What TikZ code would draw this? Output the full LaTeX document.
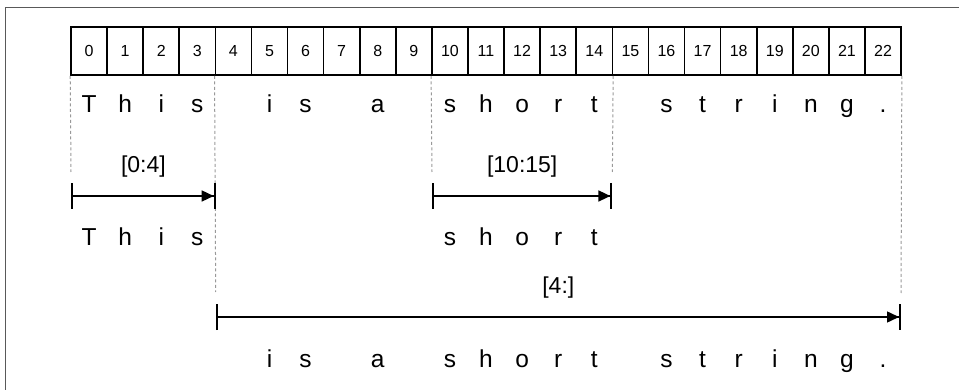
\documentclass[tikz,border=0pt]{standalone}
\usepackage{fontspec}
\setmainfont{Liberation Sans}
\usetikzlibrary{arrows.meta, positioning}

\begin{document}
\begin{tikzpicture}[x=1pt, y=-1pt,
  cell/.style={rectangle, draw=black, line width=1.6pt,
    minimum width=36.09pt, minimum height=48pt, inner sep=0pt,
    font=\fontsize{16}{19}\selectfont},
  char/.style={inner sep=0pt, anchor=base,
    font=\fontsize{24.5}{29}\selectfont},
  guide/.style={draw=black!40, dash pattern=on 3pt off 2.5pt, line width=1pt},
  span/.style={line width=1.5pt,
    {Bar[width=26pt,line width=2pt]}-{Triangle[length=12pt,width=11pt]Bar[width=26pt,line width=2pt]}},
  slice/.style={inner sep=0pt, font=\fontsize{23}{27}\selectfont}]

\useasboundingbox (0,0) rectangle (959,390);
\draw [black!65, line width=1.2pt] (959,7.5) -- (5.5,7.5) -- (5.5,390);

% index cells
\foreach \i in {0,...,22}
  \node (c\i) [cell] at ({71+36.09*\i+18.045}, 51) {\i};

% full string
\foreach \i/\ch in {0/T,1/h,2/i,3/s,5/i,6/s,8/a,10/s,11/h,12/o,13/r,14/t,
  16/s,17/t,18/r,19/i,20/n,21/g,22/.}
  \node (r\i) [char] at ({71+36.09*\i+18.045}, 113) {\ch};

% slices
\foreach \i/\ch in {0/T,1/h,2/i,3/s,10/s,11/h,12/o,13/r,14/t}
  \node (p\i) [char] at ({71+36.09*\i+18.045}, 246) {\ch};
\foreach \i/\ch in {5/i,6/s,8/a,10/s,11/h,12/o,13/r,14/t,
  16/s,17/t,18/r,19/i,20/n,21/g,22/.}
  \node (q\i) [char] at ({71+36.09*\i+18.045}, 367) {\ch};

% guides
\coordinate (g0) at (71,172);
\coordinate (g4) at (215.7,292);
\coordinate (g10) at (432,172);
\coordinate (g15) at (612.4,172);
\coordinate (g23) at (901,293);
\draw [guide] (c0.south west) -- (g0);
\draw [guide] (c4.south west) -- (g4);
\draw [guide] (c10.south west) -- (g10);
\draw [guide] (c14.south east) -- (g15);
\draw [guide] (c22.south east) -- (g23);

% spans
\coordinate (s1a) at (71,196);
\coordinate (s1b) at (215.7,196);
\coordinate (s2a) at (432,196);
\coordinate (s2b) at (612.4,196);
\coordinate (s3a) at (215.7,317);
\coordinate (s3b) at (901,317);
\draw [span] (s1a) -- (s1b);
\draw [span] (s2a) -- (s2b);
\draw [span] (s3a) -- (s3b);

\node (l1) [slice] at (143.4,167) {[0:4]};
\node (l2) [slice] at (522.2,167) {[10:15]};
\node (l3) [slice] at (558.3,288) {[4:]};

\end{tikzpicture}
\end{document}
